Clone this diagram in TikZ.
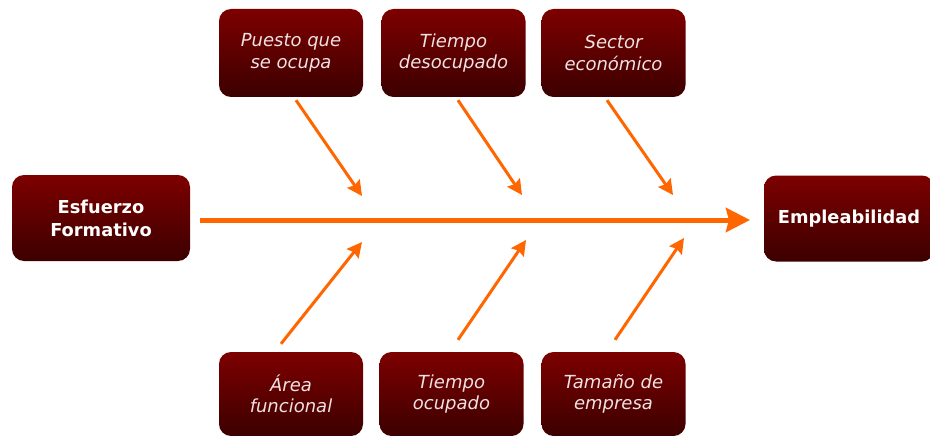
\documentclass[tikz,border=0pt]{standalone}
\usepackage{fontspec}
\setmainfont{DejaVu Sans}
\usetikzlibrary{arrows.meta,calc}
\definecolor{boxtop}{RGB}{125,0,0}
\definecolor{boxbot}{RGB}{60,0,0}
\definecolor{arrorange}{RGB}{255,102,0}
\definecolor{ltext}{RGB}{240,226,226}
\begin{document}
\begin{tikzpicture}[x=1pt,y=-1pt,
  box/.style={rounded corners=12pt, top color=boxtop, bottom color=boxbot, draw=none, inner sep=0pt, align=center},
  cause/.style={box, minimum width=144pt, minimum height=88pt, text=ltext, font=\itshape\fontsize{18}{21.5}\selectfont},
  endbox/.style={box, minimum width=178pt, minimum height=86pt, text=white, font=\bfseries\fontsize{17.8}{23}\selectfont},
  spine/.style={arrorange, line width=5pt, -{Stealth[length=24pt,width=24pt,inset=3pt]}},
  bone/.style={arrorange, line width=3pt, -{Stealth[length=15pt,width=15pt,inset=2pt]}}]
\clip (0,0) rectangle (930,436);
\fill[white] (0,0) rectangle (930,436);
\node[endbox] (esf) at (101,218) {Esfuerzo\\Formativo};
\node[endbox, minimum width=170pt] (emp) at (849,218.5) {Empleabilidad};
\node[cause] (puesto) at (291,53) {Puesto que\\ se ocupa};
\node[cause] (desoc) at (453.5,53) {Tiempo\\desocupado};
\node[cause] (sector) at (613.5,53) {Sector\\económico};
\node[cause, minimum height=84pt] (area) at (291,394) {Área\\funcional};
\node[cause, minimum height=84pt] (ocup) at (451.5,394) {Tiempo\\ocupado};
\node[cause, minimum height=84pt] (tam) at (613.5,394) {Tamaño de\\empresa};
\coordinate (t1) at (362,196);
\coordinate (t2) at (522,195);
\coordinate (t3) at (673,195);
\coordinate (b1) at (362,242);
\coordinate (b2) at (526,240);
\coordinate (b3) at (684,238);
\coordinate (tip) at (750,220);
\draw[spine] ($(esf.east)+(10,2)$) -- (tip);
\draw[bone] ($(puesto.south)+(5,3)$) -- (t1);
\draw[bone] ($(desoc.south)+(4.5,3)$) -- (t2);
\draw[bone] ($(sector.south)+(-6.5,3)$) -- (t3);
\draw[bone] ($(area.north)+(-10,-8)$) -- (b1);
\draw[bone] ($(ocup.north)+(6.5,-12)$) -- (b2);
\draw[bone] ($(tam.north)+(1.5,-12)$) -- (b3);
\end{tikzpicture}
\end{document}
